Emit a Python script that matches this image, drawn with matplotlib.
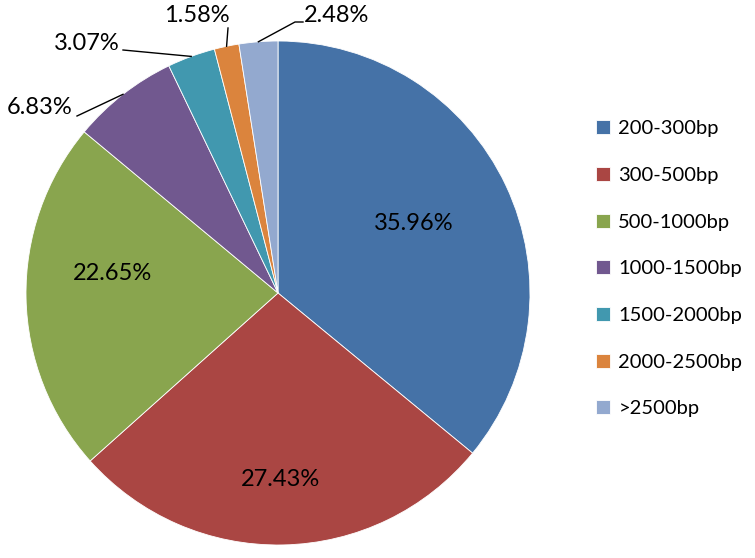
import numpy as np
import matplotlib.pyplot as plt

plt.rcParams['font.family'] = ['Lato', 'DejaVu Sans']

labels = ['200-300bp', '300-500bp', '500-1000bp', '1000-1500bp',
          '1500-2000bp', '2000-2500bp', '>2500bp']
values = [35.96, 27.43, 22.65, 6.83, 3.07, 1.58, 2.48]
colors = ['#4572A7', '#AA4643', '#89A54E', '#71588F', '#4198AF', '#DB843D', '#93A9CF']

W, H = 755, 558
cx, cy, R = 278, 293, 252

def px(x, y):
    # pixel -> data coords of the pie axes
    return (x - cx) / R, (cy - y) / R

fig = plt.figure(figsize=(W / 100, H / 100), dpi=100)
ax = fig.add_axes([(cx - R) / W, (H - cy - R) / H, 2 * R / W, 2 * R / H])

wedges, _ = ax.pie(values, colors=colors, startangle=90, counterclock=False,
                   wedgeprops=dict(edgecolor='white', linewidth=0.6))
ax.set_xlim(-1, 1)
ax.set_ylim(-1, 1)

fs = 17
# labels inside the big slices
inner = {0: (414, 224), 1: (281, 480), 2: (112, 273)}
for i, (x, y) in inner.items():
    ax.text(*px(x, y), f'{values[i]:.2f}%', ha='center', va='center', fontsize=fs)

# outside labels with leader lines: text pos, line start
outer = {
    3: ((40, 107), (77, 116)),
    4: ((87, 44), (123, 50)),
    5: ((197, 16), (228, 28)),
    6: ((337, 16), (295, 22)),
}
for i, (tpos, lstart) in outer.items():
    w = wedges[i]
    mid = np.deg2rad((w.theta1 + w.theta2) / 2)
    ex, ey = np.cos(mid), np.sin(mid)
    ax.text(*px(*tpos), f'{values[i]:.2f}%', ha='center', va='center', fontsize=fs)
    sx, sy = px(*lstart)
    if i == 6:
        hx, hy = px(303, 22)
        ax.plot([hx, sx, ex], [hy, sy, ey], color='black', lw=1.0, clip_on=False)
    else:
        ax.plot([sx, ex], [sy, ey], color='black', lw=1.0, clip_on=False)

leg = fig.legend(wedges, labels, loc='upper left', bbox_to_anchor=(578 / W, 1 - 102 / H),
                 frameon=False, fontsize=14.5, handlelength=0.7, handleheight=0.7,
                 handletextpad=0.4, labelspacing=1.47)

fig.savefig('out.png', dpi=100)
